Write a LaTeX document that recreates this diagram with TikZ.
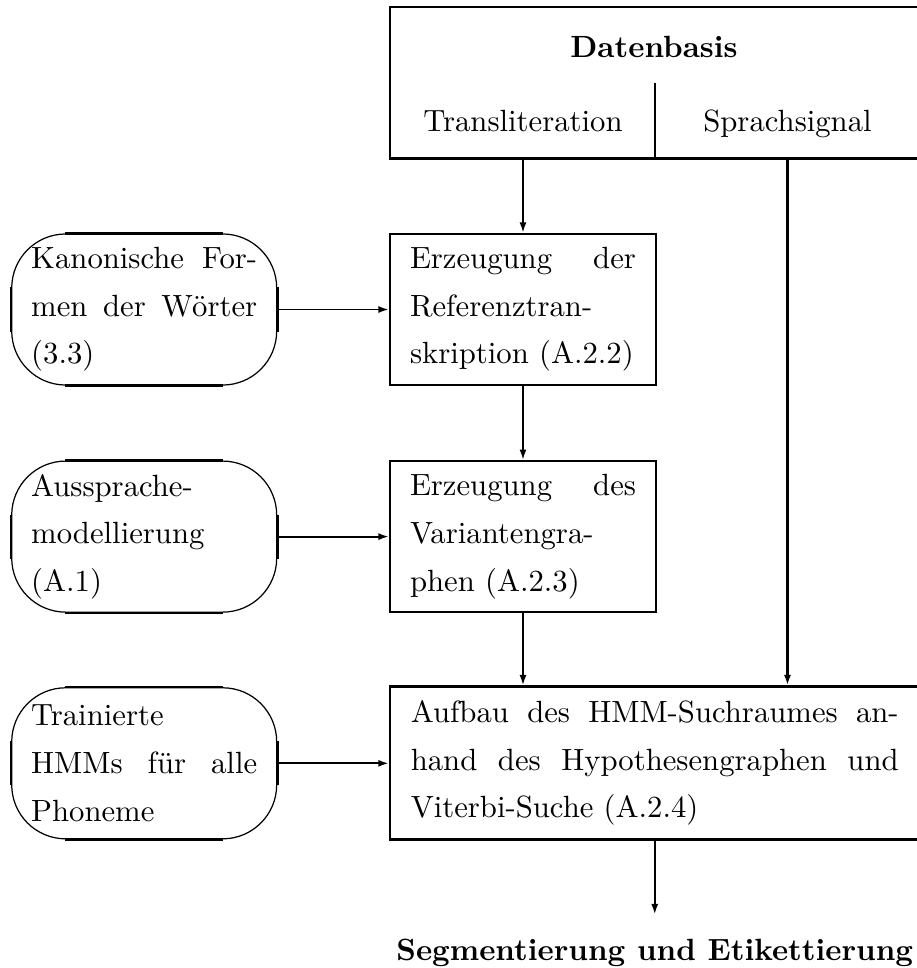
\documentclass[tikz,border=0pt]{standalone}
\usepackage{fontspec}
\usetikzlibrary{arrows.meta}

\tikzset{
    kasten/.style={draw, line width=0.8pt, inner sep=0pt,
        minimum width=86.6pt, minimum height=49.2pt,
        text width=73.6pt, align=justify,
        font=\fontsize{10}{15.5}\selectfont},
    rund/.style={kasten, line width=0.4pt, rounded corners=17.6pt,
        minimum width=86.3pt},
    breit/.style={kasten, minimum width=172.5pt, minimum height=49.8pt,
        text width=158.9pt},
    pfeil/.style={line width=0.6pt, -{Latex[length=3.4pt,width=2.3pt]}},
    etikett/.style={anchor=base, inner sep=0pt, font=\fontsize{10}{12}\selectfont}
}

\begin{document}
\begin{tikzpicture}[x=0.3257pt, y=-0.3257pt]

    \useasboundingbox (0,0) rectangle (917,968);

    %draws data base box on top
    \node[draw, line width=0.8pt, minimum width=172.5pt, minimum height=49.3pt,
        inner sep=0pt] (datenb) at (654.75,82.75) {};
    \node[etikett] (datenlbl) at (654,57) {\bfseries Datenbasis};
    \node[etikett] (translit) at (523,131) {Transliteration};
    \node[etikett] (sprach) at (787.5,131) {Sprachsignal};
    \coordinate (teiler) at (655,83);
    \draw[line width=0.6pt] (teiler) -- (teiler |- datenb.south);

    %draws the three processing steps
    \node[kasten] (refer) at (523,309.5)
        {Erzeugung der\linebreak Referenztran-\linebreak skription (A.2.2)};
    \node[kasten] (varia) at (523,536.7)
        {Erzeugung des\linebreak Variantengra-\linebreak phen (A.2.3)};
    \node[breit] (suche) at (654.75,763)
        {Aufbau des HMM-Suchraumes an-\linebreak hand des Hypothesengraphen und\linebreak Viterbi-Suche (A.2.4)};

    %draws knowledge sources on the left
    \node[rund] (kanon) at (144.2,309.5)
        {Kanonische For-\linebreak men der Wörter\linebreak (3.3)};
    \node[rund] (aussp) at (144.2,536.6)
        {Aussprache-\linebreak modellierung\linebreak (A.1)};
    \node[rund] (train) at (144.2,763.3)
        {Trainierte\linebreak HMMs für alle\linebreak Phoneme};

    %thicker straight parts of the rounded boxes
    \foreach \n in {kanon,aussp,train}
    {
        \draw[line width=0.8pt] ([xshift=17.6pt]\n.north west) -- ([xshift=-17.6pt]\n.north east);
        \draw[line width=0.8pt] ([xshift=17.6pt]\n.south west) -- ([xshift=-17.6pt]\n.south east);
        \draw[line width=0.8pt] ([yshift=-17.6pt]\n.north west) -- ([yshift=17.6pt]\n.south west);
        \draw[line width=0.8pt] ([yshift=-17.6pt]\n.north east) -- ([yshift=17.6pt]\n.south east);
    }

    \node[etikett, inner ysep=7.7pt, anchor=base] (segm) at (654.75,960)
        {\bfseries Segmentierung und Etikettierung};

    %draws connectors
    \draw[pfeil] (refer.north |- datenb.south) -- (refer.north);
    \draw[pfeil] (refer) -- (varia);
    \draw[pfeil] (varia.south) -- (varia.south |- suche.north);
    \draw[pfeil, line width=0.8pt] (sprach |- datenb.south) -- (sprach |- suche.north);
    \draw[pfeil] (kanon) -- (refer);
    \draw[pfeil] (aussp.east) -- (aussp.east -| varia.west);
    \draw[pfeil] (train.east) -- (train.east -| suche.west);
    \draw[pfeil] (suche.south) -- (suche.south |- segm.north);

\end{tikzpicture}
\end{document}
